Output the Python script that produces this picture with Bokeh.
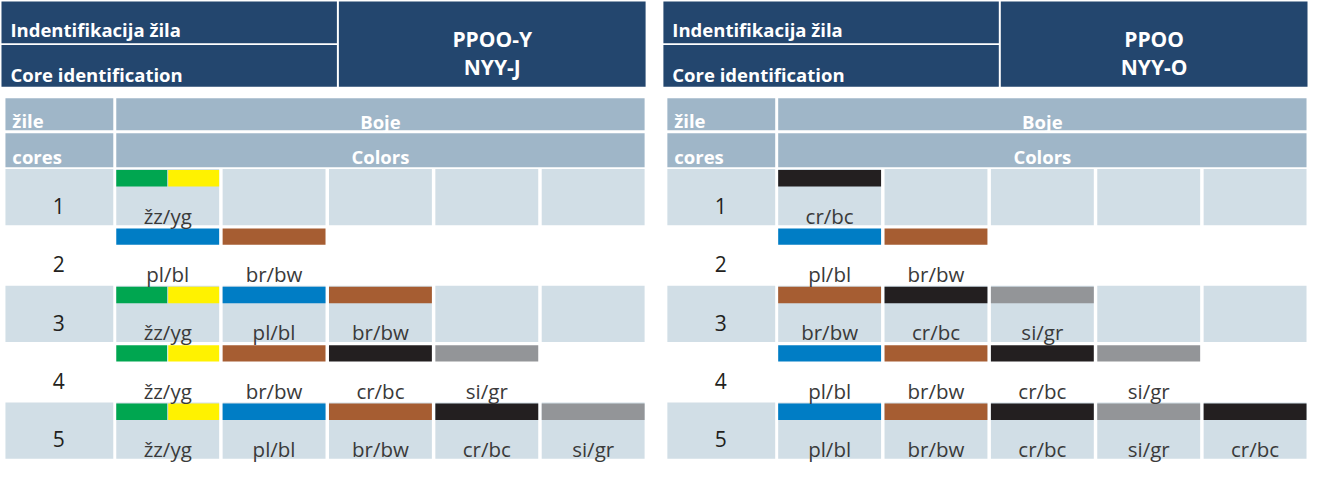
from bokeh.plotting import figure
from bokeh.models import Range1d
from bokeh.core.properties import value
from bokeh.embed import file_html
from bokeh.resources import INLINE

# ---------------- data ----------------
header_titles = ["Indentifikacija žila", "Core identification"]
sub_labels = ["žile", "cores"]
sub_headers = ["Boje", "Colors"]
row_numbers = ["1", "2", "3", "4", "5"]

left_product = ["PPOO-Y", "NYY-J"]
left_cores = [
    ["žz/yg"],
    ["pl/bl", "br/bw"],
    ["žz/yg", "pl/bl", "br/bw"],
    ["žz/yg", "br/bw", "cr/bc", "si/gr"],
    ["žz/yg", "pl/bl", "br/bw", "cr/bc", "si/gr"],
]

right_product = ["PPOO", "NYY-O"]
right_cores = [
    ["cr/bc"],
    ["pl/bl", "br/bw"],
    ["br/bw", "cr/bc", "si/gr"],
    ["pl/bl", "br/bw", "cr/bc", "si/gr"],
    ["pl/bl", "br/bw", "cr/bc", "si/gr", "cr/bc"],
]

code_colors = {
    "žz/yg": ["#00A650", "#FFF200"],
    "pl/bl": ["#007DC5"],
    "br/bw": ["#A65D32"],
    "cr/bc": ["#231F20"],
    "si/gr": ["#939598"],
}

# ---------------- styles ----------------
DARK = "#23466E"
HEAD = "#9FB6C8"
CELL = "#D1DEE6"
TXT = "#3A3A3A"
NUM = "#231F20"
FONT = "Open Sans"

p = figure(width=1308, height=465, output_backend="svg", toolbar_location=None,
           x_range=Range1d(2, 1324), y_range=Range1d(486, 6), min_border=0)
p.axis.visible = False
p.grid.visible = False
p.outline_line_color = None
p.background_fill_color = "white"


def draw_table(x0, product, cores):
    # title block
    p.quad(left=[x0, x0], right=[x0 + 339, x0 + 339], top=[7, 52], bottom=[50, 95],
           fill_color=DARK, line_color=None)
    p.quad(left=[x0 + 341], right=[x0 + 651], top=[7], bottom=[95],
           fill_color=DARK, line_color=None)
    p.text(x=[x0 + 9, x0 + 9], y=[36, 82], text=header_titles,
           text_font=value(FONT), text_font_style="bold", text_font_size="18.5px",
           text_color="white", text_align="left", text_baseline="alphabetic")
    p.text(x=[x0 + 496, x0 + 496], y=[45.5, 75], text=product,
           text_font=value(FONT), text_font_style="bold", text_font_size="21px",
           text_color="white", text_align="center", text_baseline="alphabetic")

    # sub header
    tops = [107, 143]
    bots = [140, 178]
    p.quad(left=[x0 + 4] * 2, right=[x0 + 113] * 2, top=tops, bottom=bots,
           fill_color=HEAD, line_color=None)
    p.quad(left=[x0 + 116] * 2, right=[x0 + 650] * 2, top=tops, bottom=bots,
           fill_color=HEAD, line_color=None)
    p.text(x=[x0 + 11] * 2, y=[130, 167], text=sub_labels,
           text_font=value(FONT), text_font_style="bold", text_font_size="18.5px",
           text_color="white", text_align="left", text_baseline="alphabetic")
    p.text(x=[x0 + 383] * 2, y=[131, 167], text=sub_headers,
           text_font=value(FONT), text_font_style="bold", text_font_size="18.5px",
           text_color="white", text_align="center", text_baseline="alphabetic")

    # body rows
    pitch_y = 60.25
    pitch_x = 107.5
    cw = 104
    bl, br, bt, bb = [], [], [], []
    cl, cr, ct, cb, cc = [], [], [], [], []
    nx, ny = [], []
    tx, ty, tt = [], [], []
    for i, codes in enumerate(cores):
        top = 180 + pitch_y * i
        if i % 2 == 0:
            bl.append(x0 + 4); br.append(x0 + 113); bt.append(top); bb.append(top + 58)
            for j in range(5):
                cx = x0 + 116 + pitch_x * j
                bl.append(cx); br.append(cx + cw); bt.append(top); bb.append(top + 58)
        nx.append(x0 + 58); ny.append(top + 38)
        for j, code in enumerate(codes):
            cx = x0 + 116 + pitch_x * j
            cols = code_colors[code]
            n = len(cols)
            seg = (cw - (n - 1)) / n
            for k, col in enumerate(cols):
                cl.append(cx + k * (seg + 1)); cr.append(cx + k * (seg + 1) + seg)
                ct.append(top + 1); cb.append(top + 18); cc.append(col)
            tx.append(cx + cw / 2); ty.append(top + 48); tt.append(code)
    p.quad(left=bl, right=br, top=bt, bottom=bb, fill_color=CELL, line_color=None)
    p.quad(left=cl, right=cr, top=ct, bottom=cb, fill_color=cc, line_color=None)
    p.text(x=nx, y=ny, text=row_numbers, text_font=value(FONT), text_font_size="21px",
           text_color=NUM, text_align="center", text_baseline="alphabetic")
    p.text(x=tx, y=ty, text=tt, text_font=value(FONT), text_font_size="20.5px",
           text_color=TXT, text_align="center", text_baseline="alphabetic")


draw_table(3, left_product, left_cores)
draw_table(672, right_product, right_cores)

open("out.html", "w").write(file_html(p, INLINE))
